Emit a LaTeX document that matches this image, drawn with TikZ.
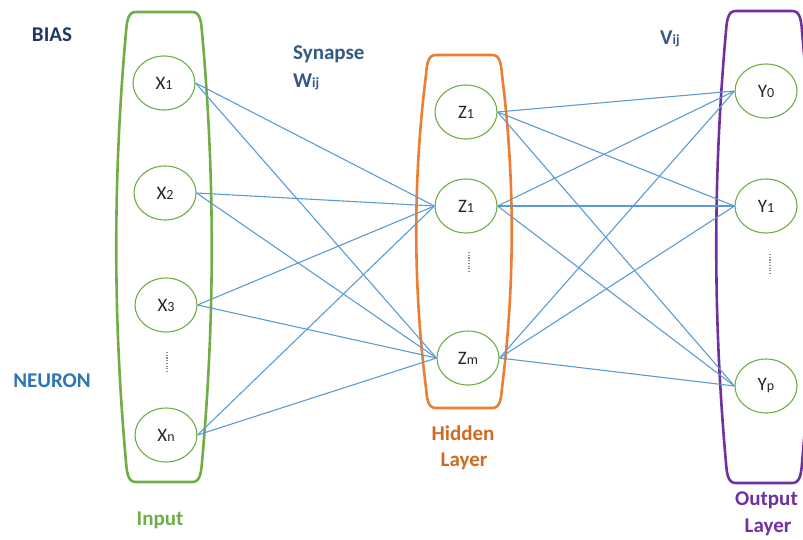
\documentclass[tikz,border=0pt]{standalone}
\usepackage{fontspec}
\setmainfont{Carlito}
\usetikzlibrary{shapes.geometric}
\definecolor{netgreen}{HTML}{70AD47}
\definecolor{netorange}{HTML}{ED7D31}
\definecolor{netpurple}{HTML}{7030A0}
\definecolor{netblue}{HTML}{5B9BD5}
\definecolor{navy}{HTML}{1F3864}
\definecolor{steel}{HTML}{335A85}
\definecolor{neuronblue}{HTML}{2E75B6}
\definecolor{hiddentext}{HTML}{D06A22}
\definecolor{dotgray}{HTML}{8C8C8C}

% X_1 style label: letter plus a smaller index on the baseline
\newcommand\idx[2]{#1{\fontsize{14}{14}\selectfont #2}}

% barrel-shaped layer frame: left x, right x, top y, bottom y
\newcommand\layerframe[5]{%
  \draw[#5, line width=2.6pt, line join=round]
    ({#1+8},#3) -- ({#2-8},#3)
    .. controls ({#2-1},#3) and ({#2+1},{#3+6}) .. ({#2+2},{#3+20})
    .. controls ({#2+15},{#3+0.35*(#4-#3)}) and ({#2+15},{#4-0.35*(#4-#3)}) .. ({#2+2},{#4-20})
    .. controls ({#2+1},{#4-6}) and ({#2-1},#4) .. ({#2-8},#4)
    -- ({#1+8},#4)
    .. controls ({#1+1},#4) and ({#1-1},{#4-6}) .. ({#1-2},{#4-20})
    .. controls ({#1-15},{#4-0.35*(#4-#3)}) and ({#1-15},{#3+0.35*(#4-#3)}) .. ({#1-2},{#3+20})
    .. controls ({#1-1},{#3+6}) and ({#1+1},#3) .. cycle;}

\begin{document}
\begin{tikzpicture}[x=1pt,y=-1pt,
  neuron/.style={ellipse, draw=netgreen, line width=1.1pt, minimum width=62pt,
    minimum height=54pt, inner sep=0pt, font=\fontsize{19}{19}\selectfont, text=black!85},
  synapse/.style={netblue, line width=1.1pt},
  vdots/.style={dotgray, line width=1.1pt, dash pattern=on 1.1pt off 1.6pt},
  tag/.style={font=\bfseries\fontsize{21}{22}\selectfont, inner sep=0pt}]
\useasboundingbox (0,0) rectangle (803,539);

% layer frames
\layerframe{128}{200}{12}{482}{netgreen}
\layerframe{428}{500}{55}{408}{netorange}
\layerframe{728}{800}{11}{483}{netpurple}

% neurons
\node[neuron] (x1) at (164,83)  {\idx{X}{1}};
\node[neuron] (x2) at (165,193) {\idx{X}{2}};
\node[neuron] (x3) at (166,305) {\idx{X}{3}};
\node[neuron] (xn) at (166,435) {\idx{X}{n}};
\node[neuron] (z1) at (466,112) {\idx{Z}{1}};
\node[neuron] (z2) at (466,206) {\idx{Z}{1}};
\node[neuron] (zm) at (468,358) {\idx{Z}{m}};
\node[neuron] (y0) at (766,91)  {\idx{Y}{0}};
\node[neuron] (y1) at (766,206) {\idx{Y}{1}};
\node[neuron] (yp) at (766,386) {\idx{Y}{p}};

% elided neurons
\coordinate (xa) at (167,352); \coordinate (xb) at (167,371);
\coordinate (za) at (469,252); \coordinate (zb) at (469,272);
\coordinate (ya) at (770,254); \coordinate (yb) at (770,273);
\draw[vdots] (xa) -- (xb);
\draw[vdots] (za) -- (zb);
\draw[vdots] (ya) -- (yb);

% input -> hidden synapses
\foreach \s in {x1,x2,x3,xn}
  \foreach \t in {z2,zm}
    \draw[synapse] (\s.east) -- (\t.west);

% hidden -> output synapses
\foreach \s in {z1,z2,zm}
  \foreach \t in {y0,y1,yp}
    \draw[synapse] (\s.east) -- (\t.west);

% captions
\node[tag, text=navy] (bias) at (52,35) {BIAS};
\node[tag, text=neuronblue] (neuronlbl) at (52,381) {NEURON};
\node[tag, text=steel, anchor=west] (syn) at (293,54) {Synapse};
\node[tag, text=steel, anchor=west] (wij) at (293,82) {W{\fontsize{14}{14}\selectfont ij}};
\node[tag, text=steel, anchor=west] (vij) at (660,39) {V{\fontsize{14}{14}\selectfont ij}};
\node[tag, text=netgreen] (inlbl) at (160,520) {Input};
\node[tag, text=hiddentext] (hid1) at (463,433) {Hidden};
\node[tag, text=hiddentext] (hid2) at (464,461) {Layer};
\node[tag, text=netpurple, anchor=west] (out1) at (735,500) {Output};
\node[tag, text=netpurple] (out2) at (768,527) {Layer};
\end{tikzpicture}
\end{document}
